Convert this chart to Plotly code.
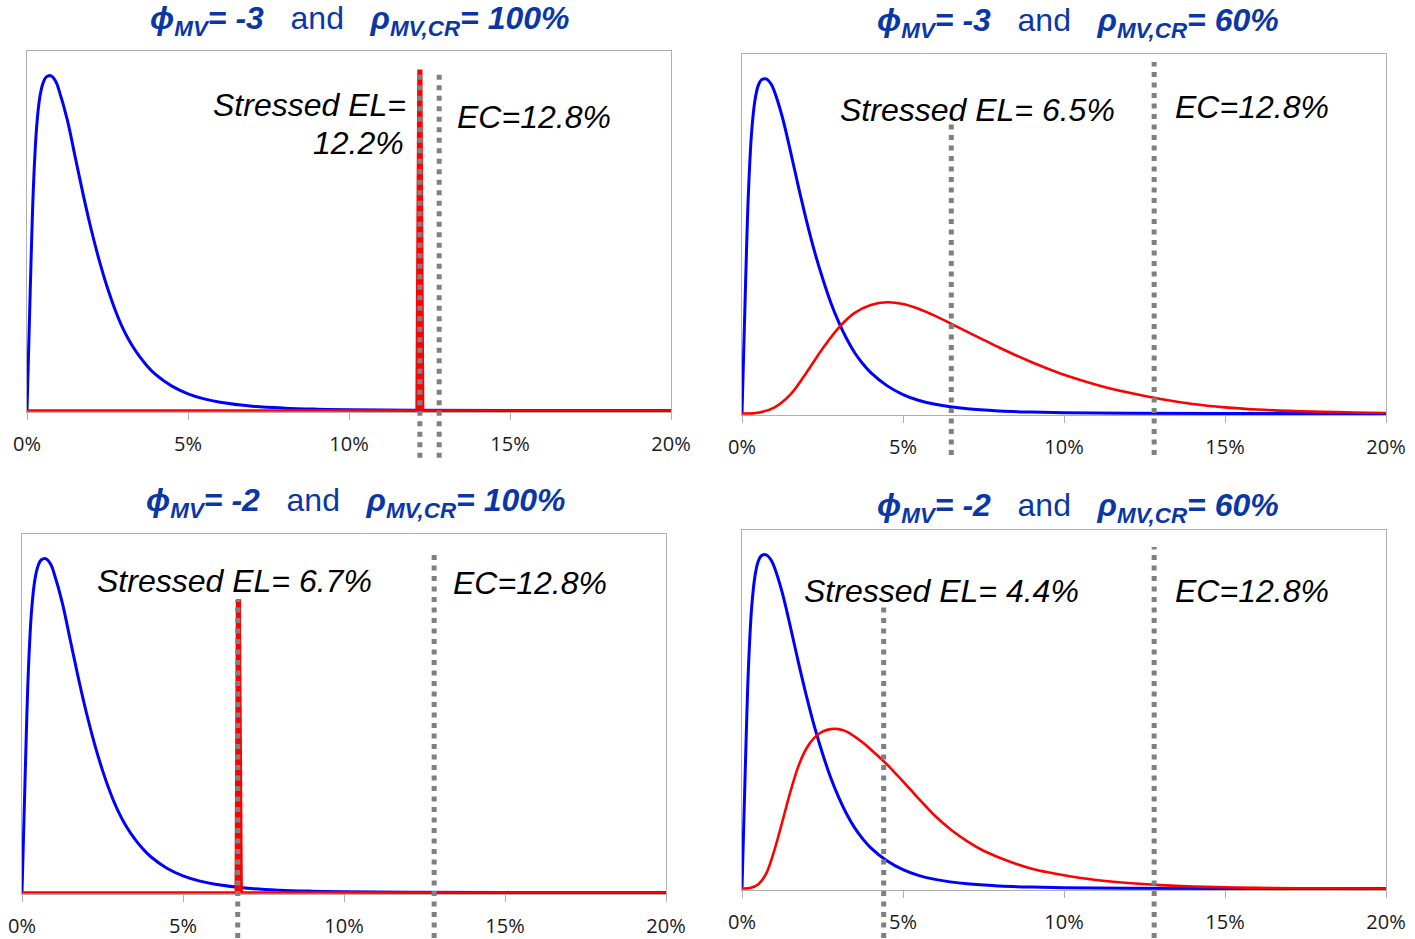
import plotly.graph_objects as go

W, H = 1415, 939

# ---- data: loss rate (%) and relative density (361 = top of panel) ----
tick_vals = [0, 5, 10, 15, 20]
tick_text = ["0%", "5%", "10%", "15%", "20%"]

# unstressed loss distribution, left column panels
blue_left_x = [0, 0.10, 0.20, 0.30, 0.40, 0.50, 0.60, 0.75, 0.90, 1.00, 1.25, 1.50, 1.75,
               2.00, 2.25, 2.50, 2.75, 3.00, 3.25, 3.50, 3.75, 4.00, 4.50, 5.00, 5.50,
               6.00, 7.00, 8.00, 9.00, 10.0, 12.0, 15.0, 20.0]
blue_left_y = [0, 120, 225, 285, 315, 329, 335, 336, 330, 321, 292, 254, 216,
               181, 150, 123, 100, 81, 66, 54, 44, 36, 24.5, 16.8, 11.7,
               8.3, 4.3, 2.35, 1.35, 0.8, 0.3, 0.07, 0]

# unstressed loss distribution, right column panels
blue_right_x = [0, 0.10, 0.20, 0.30, 0.40, 0.50, 0.60, 0.75, 0.90, 1.00, 1.25, 1.50, 1.75,
                2.00, 2.25, 2.50, 2.75, 3.00, 3.25, 3.50, 3.75, 4.00, 4.50, 5.00, 5.50,
                6.00, 7.00, 8.00, 9.00, 10.0, 12.0, 15.0, 20.0]
blue_right_y = [0, 118, 222, 283, 314, 329, 335, 336, 331, 324, 298, 264, 228,
                194, 163, 136, 112, 92, 75, 61, 50, 41, 28, 19, 13,
                9.2, 4.7, 2.5, 1.4, 0.8, 0.3, 0.07, 0]

# stressed distribution, phi=-3, rho=100% (point mass at the stressed EL)
red_a_x = [0, 12.10, 12.16, 12.24, 12.30, 20]
red_a_y = [0, 0, 341, 341, 0, 0]

# stressed distribution, phi=-3, rho=60%
red_b_x = [0, 0.5, 1.0, 1.5, 2.0, 2.5, 3.0, 3.5, 4.0, 4.5, 5.0, 5.5, 6.0, 6.5, 7.0, 7.5,
           8.0, 8.5, 9.0, 9.5, 10.0, 11.0, 12.0, 13.0, 14.0, 15.0, 16.0, 17.0, 18.0, 19.0, 20.0]
red_b_y = [0, 0.8, 6, 19, 41, 65, 86, 101, 109, 111.7, 110, 105, 98, 90, 82, 74,
           66, 58.5, 51.5, 45, 39, 29, 21, 14.5, 9.5, 6.2, 4, 2.6, 1.7, 1.0, 0.5]

# stressed distribution, phi=-2, rho=100% (point mass at the stressed EL)
red_c_x = [0, 6.64, 6.68, 6.76, 6.82, 20]
red_c_y = [0, 0, 294, 294, 0, 0]

# stressed distribution, phi=-2, rho=60%
red_d_x = [0, 0.25, 0.5, 0.75, 1.0, 1.25, 1.5, 1.75, 2.0, 2.25, 2.5, 2.75, 3.0, 3.25, 3.5,
           3.75, 4.0, 4.25, 4.5, 4.75, 5.0, 5.25, 5.5, 5.75, 6.0, 6.5, 7.0, 7.5, 8.0, 8.5,
           9.0, 9.5, 10.0, 11.0, 12.0, 13.0, 14.0, 15.0, 16.0, 18.0, 20.0]
red_d_y = [0, 0.5, 4, 15, 38, 67, 97, 123, 141, 152, 158, 160.5, 160.5, 158, 153,
           147, 140, 132.7, 125, 116.5, 108, 99, 90, 81.5, 73, 59, 47.5, 38, 31, 25,
           20, 16.3, 13.3, 8.6, 5.5, 3.4, 2.0, 1.2, 0.6, 0.2, 0]

stressed_el = [12.2, 6.5, 6.7, 4.4]
ec = [12.8, 12.8, 12.8, 12.8]
phi = ["-3", "-3", "-2", "-2"]
rho = ["100%", "60%", "100%", "60%"]

# ---- layout geometry (pixels) ----
def px(x):
    return x / W

def py(y):
    return 1 - y / H

# plot boxes: left, right, top, bottom
boxes = [(27, 671, 51, 412), (742, 1386, 54, 415), (22, 666, 534, 894), (742, 1386, 530, 890)]

blue_sets = [(blue_left_x, blue_left_y), (blue_right_x, blue_right_y),
             (blue_left_x, blue_left_y), (blue_right_x, blue_right_y)]
# (x, y, point mass?)
red_sets = [(red_a_x, red_a_y, True), (red_b_x, red_b_y, False),
            (red_c_x, red_c_y, True), (red_d_x, red_d_y, False)]

# vertical extents of the dotted markers as y-domain fractions: (stressed top, ec top, bottom)
line_ext = [(0.947, 0.947, -0.127), (0.817, 0.978, -0.111),
            (0.817, 0.953, -0.122), (0.786, 0.953, -0.133)]

BLUE = "#0000ff"
RED = "#ff0000"
GRID = "#b0b0b0"
DOT = "#808080"
TITLE = "#0b37a6"

fig = go.Figure()
layout = dict(width=W, height=H, margin=dict(l=0, r=0, t=0, b=0, autoexpand=False),
              paper_bgcolor="white", plot_bgcolor="white", showlegend=False)

shapes = []
for i in range(4):
    n = "" if i == 0 else str(i + 1)
    xa, ya = "x" + n, "y" + n
    l, r, t, b = boxes[i]
    layout["xaxis" + n] = dict(
        domain=[px(l), px(r)], anchor=ya, range=[0, 20], automargin=False,
        tickvals=tick_vals, ticktext=tick_text, ticks="outside", ticklen=7,
        tickcolor=GRID, tickwidth=1, showline=True, linecolor=GRID, linewidth=1,
        mirror=True, showgrid=False, zeroline=False, layer="below traces",
        ticklabelstandoff=7,
        tickfont=dict(family="Open Sans", size=20, color="#1a1a1a"))
    layout["yaxis" + n] = dict(
        domain=[py(b), py(t)], anchor=xa, range=[-1.5, 361], automargin=False,
        showticklabels=False, ticks="", showline=True, linecolor=GRID,
        linewidth=1, mirror=True, showgrid=False, zeroline=False, layer="below traces")

    bx, by = blue_sets[i]
    fig.add_trace(go.Scatter(x=bx, y=by, mode="lines", xaxis=xa, yaxis=ya,
                             line=dict(color=BLUE, width=3, shape="spline", smoothing=1.0),
                             hoverinfo="skip"))
    rx, ry, point_mass = red_sets[i]
    if point_mass:
        fig.add_trace(go.Scatter(x=rx, y=ry, mode="lines", xaxis=xa, yaxis=ya,
                                 line=dict(color=RED, width=2.6), fill="tozeroy",
                                 fillcolor=RED, hoverinfo="skip"))
    else:
        fig.add_trace(go.Scatter(x=rx, y=ry, mode="lines", xaxis=xa, yaxis=ya,
                                 line=dict(color=RED, width=2.6, shape="spline", smoothing=1.0),
                                 hoverinfo="skip"))

    s_top, e_top, bot = line_ext[i]
    for xv, top in ((stressed_el[i], s_top), (ec[i], e_top)):
        shapes.append(dict(type="line", xref=xa, yref=ya + " domain",
                           x0=xv, x1=xv, y0=bot, y1=top, layer="above",
                           line=dict(color=DOT, width=5, dash="5px,5.5px")))

layout["shapes"] = shapes

# ---- titles ----
NB = "\u00a0"
title_pos = [(360, 20), (1078, 22), (355, 502), (1078, 508)]
annotations = []
for i in range(4):
    cx, cy = title_pos[i]
    txt = ("<b><i>\u03d5<sub>MV</sub>= " + phi[i] + "</i></b>" + NB * 3 + "and" + NB * 3 +
           "<b><i>\u03c1<sub>MV,CR</sub>= " + rho[i] + "</i></b>")
    annotations.append(dict(text=txt, x=px(cx), y=py(cy), xref="paper", yref="paper",
                            xanchor="center", yanchor="middle", showarrow=False,
                            font=dict(family="Liberation Sans", size=32, color=TITLE)))

# ---- value labels ----
LBL = dict(family="Liberation Sans", size=32, color="black")
labels = [
    ("<i>Stressed EL=</i>", 408, 105, "right"),
    ("<i>12.2%</i>", 406, 143, "right"),
    ("<i>EC=12.8%</i>", 455, 117, "left"),
    ("<i>Stressed EL= 6.5%</i>", 838, 110, "left"),
    ("<i>EC=12.8%</i>", 1173, 107, "left"),
    ("<i>Stressed EL= 6.7%</i>", 95, 581, "left"),
    ("<i>EC=12.8%</i>", 451, 583, "left"),
    ("<i>Stressed EL= 4.4%</i>", 802, 591, "left"),
    ("<i>EC=12.8%</i>", 1173, 591, "left"),
]
for txt, x, y, anc in labels:
    annotations.append(dict(text=txt, x=px(x), y=py(y), xref="paper", yref="paper",
                            xanchor=anc, yanchor="middle", showarrow=False, font=LBL))

layout["annotations"] = annotations
fig.update_layout(**layout)
fig.write_html("out.html")
